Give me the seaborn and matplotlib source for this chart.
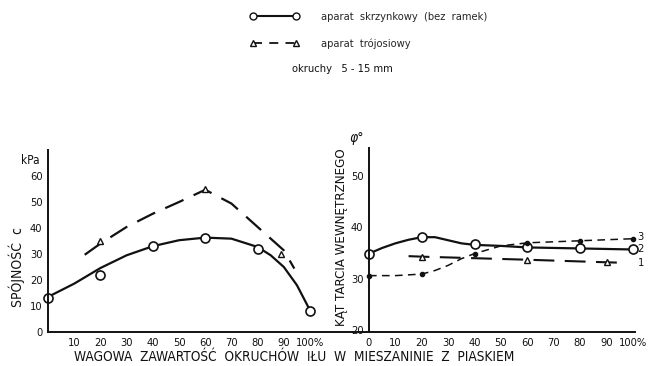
import pandas as pd
import matplotlib.pyplot as plt
import seaborn as sns
from matplotlib.lines import Line2D

# --- dane: spójność c [kPa] ---
x_c_pkt = [0, 20, 40, 60, 80, 100]
c_skrzynkowy = [13, 22, 33, 36, 32, 8]
x_c_krzywa = [0, 10, 20, 30, 40, 50, 60, 70, 80, 85, 90, 95, 100]
c_skrzynkowy_krzywa = [13.5, 18.6, 24.6, 29.5, 33, 35.3, 36.3, 35.9, 32.7, 29.5, 25, 18.0, 8.3]

x_c_troj = [20, 60, 89]
c_trojosiowy = [35, 55, 30]
x_c_troj_krzywa = [14, 20, 30, 40, 50, 60, 70, 80, 90, 94]
c_trojosiowy_krzywa = [29.7, 34, 40.4, 45.5, 50, 54.7, 49.4, 40.4, 31.4, 24.4]

# --- dane: kąt tarcia wewnętrznego [stopnie] ---
x_fi_pkt = [0, 20, 40, 60, 80, 100]
fi_skrzynkowy = [34.9, 38.1, 36.7, 36.1, 35.9, 35.7]
x_fi_krzywa = [0, 5, 10, 15, 20, 25, 30, 35, 40, 50, 60, 80, 100]
fi_skrzynkowy_krzywa = [34.9, 36.0, 36.9, 37.6, 38.1, 38.1, 37.5, 36.9, 36.6, 36.4, 36.1, 35.9, 35.7]

x_fi_troj = [20, 60, 90]
fi_trojosiowy = [34.3, 33.7, 33.2]
x_fi_troj_krzywa = [15, 20, 60, 90, 97]
fi_trojosiowy_krzywa = [34.4, 34.3, 33.7, 33.2, 33.1]

x_fi_3 = [0, 20, 40, 60, 80, 100]
fi_3 = [30.6, 30.9, 34.9, 37.0, 37.4, 37.8]
x_fi_3_krzywa = [0, 10, 20, 25, 30, 35, 40, 50, 60, 80, 100]
fi_3_krzywa = [30.6, 30.6, 30.9, 31.6, 32.6, 33.9, 34.9, 36.4, 37.0, 37.4, 37.8]

ticks_c_x = [10, 20, 30, 40, 50, 60, 70, 80, 90, 100]
ticks_c_x_lab = ["10", "20", "30", "40", "50", "60", "70", "80", "90", "100%"]
ticks_fi_x = [0, 10, 20, 30, 40, 50, 60, 70, 80, 90, 100]
ticks_fi_x_lab = ["0", "10", "20", "30", "40", "50", "60", "70", "80", "90", "100%"]

sns.set_style("white")
plt.rcParams["font.family"] = ["DejaVu Sans"]
plt.rcParams["font.stretch"] = "condensed"
plt.rcParams["axes.linewidth"] = 1.4

fig = plt.figure(figsize=(6.49, 3.66), dpi=100)
ax1 = fig.add_axes([48 / 649, 34 / 366, 321 / 649, 182 / 366])
ax2 = fig.add_axes([369 / 649, 34 / 366, 266 / 649, 184 / 366])

kolor = "#111111"

# lewy wykres
sns.lineplot(x=x_c_krzywa, y=c_skrzynkowy_krzywa, ax=ax1, color=kolor, lw=1.6)
sns.lineplot(x=x_c_troj_krzywa, y=c_trojosiowy_krzywa, ax=ax1, color=kolor, lw=1.6)
ax1.lines[-1].set_dashes([9, 5])
ax1.plot(x_c_pkt, c_skrzynkowy, "o", ms=6.5, mfc="white", mec=kolor, mew=1.2, clip_on=False)
ax1.plot(x_c_troj, c_trojosiowy, "^", ms=5, mfc="white", mec=kolor, mew=1.0)

ax1.set_xlim(0, 122.5)
ax1.set_ylim(0, 70)
ax1.set_xticks(ticks_c_x)
ax1.set_xticklabels(ticks_c_x_lab)
ax1.set_yticks([0, 10, 20, 30, 40, 50, 60])
for s in ["top", "right"]:
    ax1.spines[s].set_visible(False)
for s in ["left", "bottom"]:
    ax1.spines[s].set_color(kolor)
ax1.tick_params(axis="x", direction="in", length=3, width=1, labelsize=8, pad=4)
ax1.tick_params(axis="y", direction="out", length=3, width=1, labelsize=8, pad=1)
ax1.tick_params(axis="both", colors=kolor, labelcolor=kolor)

# prawy wykres
sns.lineplot(x=x_fi_krzywa, y=fi_skrzynkowy_krzywa, ax=ax2, color=kolor, lw=1.6)
sns.lineplot(x=x_fi_troj_krzywa, y=fi_trojosiowy_krzywa, ax=ax2, color=kolor, lw=1.5)
ax2.lines[-1].set_dashes([10, 5])
sns.lineplot(x=x_fi_3_krzywa, y=fi_3_krzywa, ax=ax2, color=kolor, lw=1.1)
ax2.lines[-1].set_dashes([5, 3.5])
ax2.plot(x_fi_pkt, fi_skrzynkowy, "o", ms=6.5, mfc="white", mec=kolor, mew=1.2, clip_on=False)
ax2.plot(x_fi_troj, fi_trojosiowy, "^", ms=5, mfc="white", mec=kolor, mew=1.0)
ax2.plot(x_fi_3, fi_3, "o", ms=3, color=kolor, clip_on=False)

for nr, y_end in [("3", fi_3[-1] + 0.3), ("2", fi_skrzynkowy[-1]), ("1", fi_trojosiowy_krzywa[-1])]:
    ax2.annotate(nr, (100, y_end), xytext=(3.5, 0), textcoords="offset points",
                 va="center", fontsize=8, color=kolor, annotation_clip=False)

ax2.set_xlim(0, 100.8)
ax2.set_ylim(19.6, 55.5)
ax2.set_xticks(ticks_fi_x)
ax2.set_xticklabels(ticks_fi_x_lab)
ax2.set_yticks([20, 30, 40, 50])
for s in ["top", "right"]:
    ax2.spines[s].set_visible(False)
for s in ["left", "bottom"]:
    ax2.spines[s].set_color(kolor)
ax2.tick_params(axis="x", direction="in", length=3, width=1, labelsize=8, pad=4)
ax2.tick_params(axis="y", direction="out", length=3, width=1, labelsize=8, pad=1)
ax2.tick_params(axis="both", colors=kolor, labelcolor=kolor)

# opisy osi
fig.text(17 / 649, 1 - 267 / 366, "SPÓJNOŚĆ  c", rotation=90, ha="center", va="center",
         fontsize=10, color=kolor)
fig.text(30 / 649, 1 - 161 / 366, "kPa", ha="center", va="center", fontsize=8.5, color=kolor)
fig.text(342 / 649, 1 - 237 / 366, "KĄT TARCIA WEWNĘTRZNEGO", rotation=90, ha="center",
         va="center", fontsize=9.5, color=kolor)
fig.text(357 / 649, 1 - 138 / 366, "φ°", ha="center", va="center", fontsize=10,
         style="italic", color=kolor)
fig.text(294 / 649, 1 - 357 / 366,
         "WAGOWA  ZAWARTOŚĆ  OKRUCHÓW  IŁU  W  MIESZANINIE  Z  PIASKIEM",
         ha="center", va="center", fontsize=9.8, color=kolor)

# legenda
uchwyty = [
    Line2D([], [], color=kolor, lw=1.5, marker="o", ms=5, mfc="white", mec=kolor),
    Line2D([], [], color=kolor, lw=1.3, ls=(0, (5, 4)), marker="^", ms=4, mfc="white", mec=kolor),
]
fig.legend(uchwyty, ["aparat  skrzynkowy  (bez  ramek)", "aparat  trójosiowy"],
           numpoints=2, frameon=False, loc="upper left",
           bbox_to_anchor=(240 / 649, 1 - 2 / 366), fontsize=8,
           handlelength=4.4, handletextpad=2.0, labelspacing=1.5)
fig.text(292 / 649, 1 - 69 / 366, "okruchy   5 - 15 mm", ha="left", va="center",
         fontsize=8, color=kolor)

fig.savefig("out.png", dpi=100)
